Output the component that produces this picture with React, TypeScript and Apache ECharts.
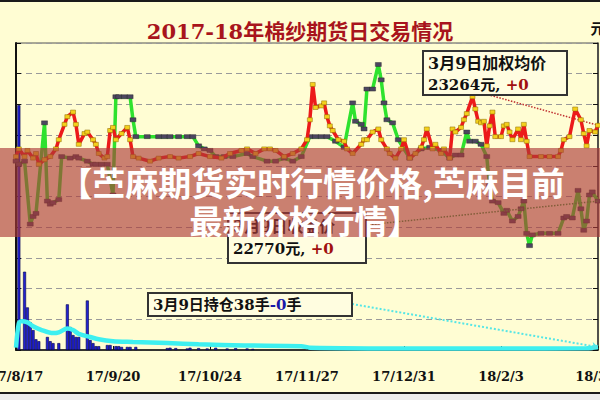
import React, { useEffect, useRef } from "react";
import * as echarts from "echarts";

// x axis: trading-day offset from 2017-08-17 (0) to 2018-03-09 (204)
const xTickLabels = ["17/8/17", "17/9/20", "17/10/24", "17/11/27", "17/12/31", "18/2/3", "18/3/9"];
const X_STEP = 34;

// 收盘价 (green line)
const closeDays = [0, 1, 3, 5, 6, 7, 10, 11, 12, 13, 15, 16, 19, 21, 22, 25, 27, 28, 30, 32, 34, 35, 36, 38, 40, 41, 42, 46, 50, 52, 54, 57, 60, 62, 64, 66, 68, 70, 73, 76, 81, 83, 88, 91, 94, 97, 100, 103, 105, 107, 109, 112, 115, 118, 119, 121, 122, 123, 125, 127, 128, 129, 130, 132, 134, 138, 142, 145, 149, 152, 154, 156, 158, 159, 161, 163, 165, 166, 167, 169, 171, 172, 174, 176, 177, 178, 179, 180, 181, 184, 187, 190, 192, 193, 195, 197, 198, 199, 200, 201, 202, 204];
const closePrice = [23030, 23010, 23030, 22620, 22670, 22690, 23280, 22770, 22750, 22760, 22780, 23060, 23050, 23060, 23050, 23030, 23010, 23010, 23010, 23010, 22810, 23450, 23450, 23450, 23450, 23300, 23190, 23190, 23190, 23190, 23190, 23190, 23190, 23190, 23130, 23110, 23100, 23060, 23060, 23060, 23080, 23060, 23030, 23030, 23050, 23030, 23060, 23190, 23190, 23190, 23190, 23160, 23120, 23410, 23290, 23270, 23240, 23500, 23500, 23660, 23560, 23410, 23300, 23280, 23170, 23050, 23110, 23120, 23100, 23050, 23070, 23070, 23220, 23160, 23160, 23140, 23060, 22870, 22770, 22760, 22690, 22710, 22640, 22670, 22720, 22770, 22560, 22480, 22550, 22560, 22560, 22560, 22660, 22670, 22660, 22840, 22720, 22580, 22640, 22810, 22830, 22770];

// 加权均价 (red line)
const avgDays = [0, 1, 3, 4, 6, 7, 8, 10, 12, 14, 15, 17, 18, 20, 21, 22, 24, 25, 27, 28, 29, 31, 32, 33, 34, 35, 37, 39, 40, 41, 43, 47, 50, 54, 57, 61, 64, 68, 72, 75, 79, 81, 84, 87, 89, 91, 94, 97, 100, 102, 103, 104, 105, 107, 108, 109, 110, 111, 113, 115, 116, 118, 121, 122, 123, 125, 127, 128, 130, 131, 133, 135, 136, 138, 140, 142, 143, 144, 146, 147, 149, 150, 152, 153, 154, 156, 157, 158, 160, 161, 162, 163, 164, 165, 166, 167, 168, 170, 171, 172, 173, 174, 176, 177, 178, 179, 180, 184, 187, 190, 191, 192, 194, 196, 198, 199, 200, 201, 203, 204];
const avgPrice = [23060, 23110, 23060, 23100, 23050, 23080, 23010, 23040, 23060, 23110, 23170, 23270, 23320, 23350, 23270, 23140, 23210, 23220, 23170, 23140, 23080, 23050, 23060, 23230, 23250, 23170, 23210, 23250, 23170, 23060, 23050, 23030, 23050, 23060, 23050, 23060, 23080, 23060, 23050, 23080, 23100, 23110, 23080, 23110, 23110, 23100, 23060, 23080, 23110, 23170, 23300, 23530, 23380, 23390, 23410, 23320, 23260, 23230, 23170, 23160, 23110, 23080, 23140, 23170, 23170, 23220, 23240, 23170, 23110, 23080, 23050, 23110, 23170, 23050, 23080, 23120, 23170, 23240, 23110, 23140, 23080, 23110, 23050, 23240, 23220, 23250, 23300, 23340, 23450, 23370, 23290, 23280, 23290, 23130, 23260, 23350, 23190, 23190, 23260, 23270, 23220, 23170, 23240, 23170, 23270, 23160, 23060, 23060, 23060, 23060, 23100, 23170, 23190, 23370, 23300, 23210, 23130, 23230, 23220, 23264];

// 成交量 (blue bars, 手)
const volDays = [1, 3, 4, 5, 6, 7, 8, 11, 12, 13, 15, 18, 19, 20, 21, 22, 25, 26, 27, 28, 29, 32, 33, 35, 36, 37, 39, 40, 42, 53, 54, 56, 60, 61, 64, 67, 70, 74, 77, 81, 83];
const volume = [3190, 1020, 555, 360, 260, 140, 115, 170, 115, 90, 90, 595, 300, 195, 170, 170, 645, 130, 90, 50, 50, 65, 65, 50, 50, 40, 40, 40, 40, 25, 30, 25, 20, 30, 25, 20, 30, 20, 25, 20, 15];

// 持仓 (cyan line, 手)
const oiDays = [0, 1, 2, 4, 6, 9, 13, 15, 18, 20, 22, 26, 29, 34, 41, 53, 64, 80, 100, 103, 140, 170, 200, 204];
const openInterest = [30, 350, 375, 360, 310, 260, 220, 230, 280, 260, 210, 170, 140, 115, 105, 90, 75, 60, 50, 30, 20, 20, 22, 38];

const zip = (xs: number[], ys: number[]) => xs.map((x, i) => [x, ys[i]]);

const SERIF = "'DejaVu Serif', 'Noto Sans CJK SC', serif";
const CJK = "'Noto Sans CJK SC', sans-serif";

export default function App() {
  const ref = useRef<HTMLDivElement>(null);
  useEffect(() => {
    if (!ref.current) return;
    const chart = echarts.init(ref.current, undefined, { renderer: "svg" });
    const lastIdx = closePrice.length - 1;
    const option: any = {
      animation: false,
      backgroundColor: "#fffdd3",
      title: {
        text: "2017-18年棉纱期货日交易情况",
        left: "center",
        top: 16,
        textStyle: { color: "#a8141c", fontSize: 21, fontWeight: "bold", fontFamily: SERIF },
      },
      grid: {
        left: 16, right: 2, top: 43, bottom: 50,
        containLabel: false,
        outerBoundsMode: "none",
        show: true, borderColor: "#555", borderWidth: 1, backgroundColor: "transparent",
      },
      xAxis: {
        type: "value",
        min: 0,
        max: 204,
        interval: X_STEP,
        axisLine: { show: true, lineStyle: { color: "#111", width: 1.5 } },
        axisTick: { show: true, inside: true, length: 4, lineStyle: { color: "#111" } },
        splitLine: { show: false },
        axisLabel: {
          margin: 20,
          color: "#111",
          fontSize: 13,
          fontWeight: "bold",
          fontFamily: SERIF,
          hideOverlap: false,
          formatter: (v: number) => xTickLabels[Math.round(v / X_STEP)] ?? "",
        },
      },
      yAxis: [
        {
          type: "value",
          position: "left",
          min: 0,
          max: 4000,
          interval: 400,
          axisLine: { show: true, lineStyle: { color: "#111", width: 2 } },
          axisTick: { show: true, inside: true, length: 5, lineStyle: { color: "#111" } },
          axisLabel: { show: false },
          splitLine: { show: false },
        },
        {
          type: "value",
          position: "right",
          min: 21800,
          max: 23800,
          interval: 200,
          name: "元",
          nameGap: 8,
          nameTextStyle: { color: "#111", fontSize: 15, fontWeight: "bold", fontFamily: CJK },
          axisLine: { show: true, lineStyle: { color: "#333", width: 1.5 } },
          axisTick: { show: true, inside: true, length: 5, lineStyle: { color: "#111" } },
          axisLabel: { show: false },
          splitLine: { show: true, lineStyle: { color: "#9a9a9a", type: [6, 4], width: 1 } },
        },
      ],
      series: [
        {
          name: "成交量",
          type: "bar",
          xAxisIndex: 0,
          yAxisIndex: 0,
          barWidth: 3,
          data: zip(volDays, volume),
          itemStyle: { color: "#2222d0", borderColor: "#00004a", borderWidth: 0.6 },
          silent: true,
          z: 2,
        },
        {
          name: "持仓",
          type: "line",
          xAxisIndex: 0,
          yAxisIndex: 0,
          data: zip(oiDays, openInterest),
          symbol: "none",
          smooth: 0.3,
          lineStyle: { color: "#3ef0f0", width: 4.5 },
          silent: true,
          z: 3,
          markLine: {
            silent: true,
            symbol: ["none", "arrow"],
            symbolSize: 6,
            label: { show: false },
            lineStyle: { type: "dotted", color: "#55e6e6", width: 2 },
            data: [[{ x: 352, y: 304 }, { coord: [oiDays[oiDays.length - 1], openInterest[openInterest.length - 1]] }]],
          },
        },
        {
          name: "收盘价",
          type: "line",
          xAxisIndex: 0,
          yAxisIndex: 1,
          data: zip(closeDays, closePrice),
          showAllSymbol: true,
          symbol: "rect",
          symbolSize: [6, 4],
          lineStyle: { color: "#2ee22e", width: 3.5 },
          itemStyle: { color: "#4d4660", borderColor: "#222", borderWidth: 0.4 },
          silent: true,
          z: 4,
          markLine: {
            silent: true,
            symbol: ["none", "none"],
            label: { show: false },
            lineStyle: { type: "dotted", color: "#3a9a3a", width: 1.5 },
            data: [[{ x: 366, y: 225 }, { coord: [closeDays[lastIdx], closePrice[lastIdx]] }]],
          },
        },
        {
          name: "加权均价",
          type: "line",
          xAxisIndex: 0,
          yAxisIndex: 1,
          data: zip(avgDays, avgPrice),
          showAllSymbol: true,
          symbol: "rect",
          symbolSize: [5, 4],
          lineStyle: { color: "#ec1a1a", width: 3.5 },
          itemStyle: { color: "#f4d01c", borderColor: "#8a6a00", borderWidth: 0.5 },
          silent: true,
          z: 5,
          markLine: {
            silent: true,
            symbol: ["none", "none"],
            label: { show: false },
            lineStyle: { type: "dotted", color: "#c03030", width: 1.5 },
            data: [[{ x: 482, y: 93 }, { coord: [avgDays[avgDays.length - 1], avgPrice[avgPrice.length - 1]] }]],
          },
        },
      ],
      graphic: [
        { type: "rect", z: 200, shape: { x: 0, y: 0, width: 600, height: 2 }, style: { fill: "#1a1a1a" } },
        { type: "rect", z: 200, shape: { x: 0, y: 392, width: 600, height: 2 }, style: { fill: "#1a1a1a" } },
        { type: "rect", z: 200, shape: { x: 0, y: 394, width: 600, height: 6 }, style: { fill: "#ececec" } },
        // price box
        {
          type: "group",
          z: 50,
          children: [
            { type: "rect", z: 50, shape: { x: 423, y: 51, width: 144, height: 44 }, style: { fill: "#fffde0", stroke: "#333", lineWidth: 2 } },
            { type: "text", z: 51, x: 428, y: 63, style: { text: "3月9日加权均价", font: `bold 16px ${SERIF}`, fill: "#111", verticalAlign: "middle" } },
            {
              type: "text", z: 51, x: 428, y: 85,
              style: {
                text: "{a|23264元, }{b|+0}",
                verticalAlign: "middle",
                rich: {
                  a: { font: `bold 15px ${SERIF}`, fill: "#111" },
                  b: { font: `bold 15px ${SERIF}`, fill: "#a01010" },
                },
              },
            },
          ],
        },
        // close box
        {
          type: "group",
          z: 50,
          children: [
            { type: "rect", z: 50, shape: { x: 228, y: 213, width: 138, height: 50 }, style: { fill: "#fffde0", stroke: "#333", lineWidth: 2 } },
            { type: "text", z: 51, x: 233, y: 226, style: { text: "3月9日收盘价", font: `bold 16px ${SERIF}`, fill: "#111", verticalAlign: "middle" } },
            {
              type: "text", z: 51, x: 233, y: 249,
              style: {
                text: "{a|22770元, }{b|+0}",
                verticalAlign: "middle",
                rich: {
                  a: { font: `bold 15px ${SERIF}`, fill: "#111" },
                  b: { font: `bold 15px ${SERIF}`, fill: "#a01010" },
                },
              },
            },
          ],
        },
        // open interest box
        {
          type: "group",
          z: 50,
          children: [
            { type: "rect", z: 50, shape: { x: 148, y: 293, width: 204, height: 23 }, style: { fill: "#fffde0", stroke: "#333", lineWidth: 2 } },
            {
              type: "text", z: 51, x: 153, y: 305,
              style: {
                text: "{a|3月9日持仓38手}{b|-0}{a|手}",
                verticalAlign: "middle",
                rich: {
                  a: { font: `bold 15px ${SERIF}`, fill: "#111" },
                  b: { font: `bold 15px ${SERIF}`, fill: "#1a1aa8" },
                },
              },
            },
          ],
        },
        // banner overlay
        { type: "rect", z: 300, shape: { x: 0, y: 148, width: 600, height: 89 }, style: { fill: "rgba(172,58,56,0.64)" } },
        {
          type: "text", z: 301, x: 312, y: 182,
          style: { text: "【苎麻期货实时行情价格,苎麻目前", font: `bold 33px ${CJK}`, fill: "#ffffff", align: "center", verticalAlign: "middle" },
        },
        {
          type: "text", z: 301, x: 305, y: 220,
          style: { text: "最新价格行情】", font: `bold 33px ${CJK}`, fill: "#ffffff", align: "center", verticalAlign: "middle" },
        },
      ],
    };
    chart.setOption(option);
    return () => chart.dispose();
  }, []);
  return <div ref={ref} style={{ width: 600, height: 400, position: "absolute", left: 0, top: 0 }} />;
}
